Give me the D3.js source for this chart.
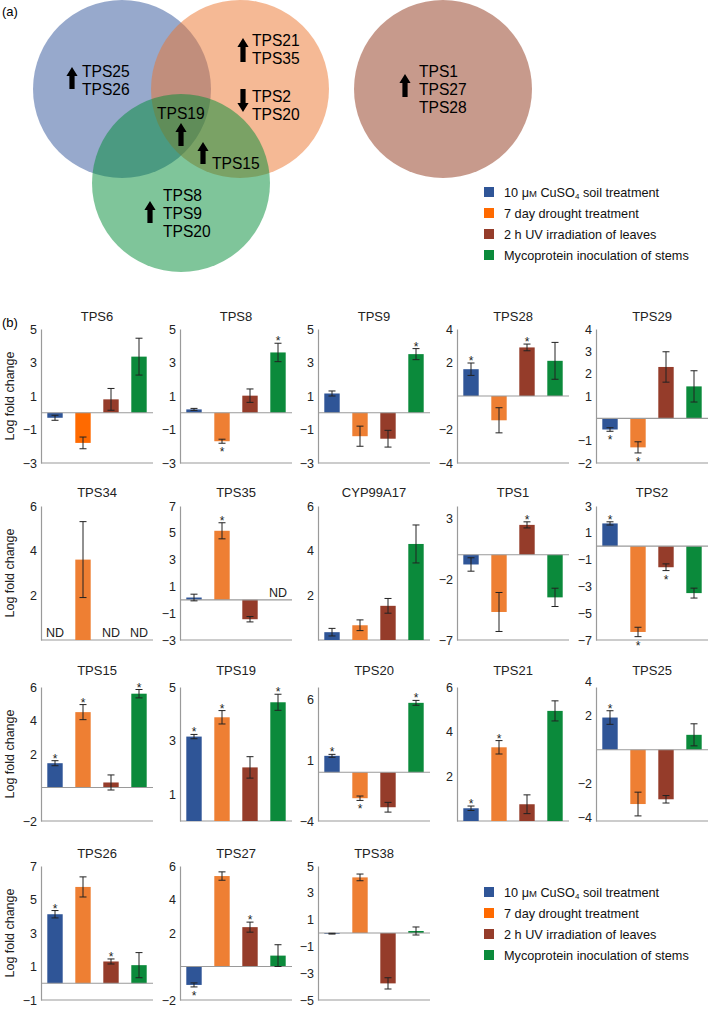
<!DOCTYPE html>
<html><head><meta charset="utf-8">
<script src="https://cdn.jsdelivr.net/npm/d3@7"></script>
<style>body{margin:0;background:#fff}svg{display:block;font-family:"Liberation Sans",Arial,Helvetica,sans-serif}</style>
</head><body><svg id="c" width="709" height="1009"></svg>
<script>
// ---------------- DATA ----------------
const genes = ["TPS6","TPS8","TPS9","TPS28","TPS29",
               "TPS34","TPS35","CYP99A17","TPS1","TPS2",
               "TPS15","TPS19","TPS20","TPS21","TPS25",
               "TPS26","TPS27","TPS38"];
// log fold change per treatment (null = ND)
const cuso4   = [-0.3, 0.2, 1.15, 1.6, -0.5,  null, 0.17, 0.35, -0.8, 1.7,   1.45, 3.15, 1.35, 0.57, 1.9,   4.12, -1.1, -0.05];
const drought = [-1.8,-1.7,-1.4,-1.45,-1.3,   3.6, 5.15, 0.66, -4.7, -6.4,   4.5, 3.87, -2.13, 3.3, -3.2,   5.75, 5.4, 4.15];
const uv      = [0.8, 1.02,-1.55, 2.9, 2.3,   null,-1.45, 1.53, 2.45, -1.57,  0.3, 2.0, -2.87, 0.75, -2.92,  1.3, 2.35, -3.76];
const myco    = [3.35,3.6, 3.5, 2.1, 1.43,    null, null, 4.3, -3.5, -3.5,    5.6, 4.43, 5.7, 4.93, 0.88,   1.08, 0.65, 0.15];
// error (half-length of bars)
const cuso4Err   = [0.15,0.06,0.15,0.37,0.08,  0,0.25,0.17,0.55,0.12,   0.15,0.08,0.12,0.1,0.4,   0.22,0.12,0.03];
const droughtErr = [0.35,0.12,0.6,0.75,0.25,   1.7,0.6,0.24,1.6,0.35,   0.45,0.25,0.18,0.3,0.7,   0.6,0.25,0.25];
const uvErr      = [0.65,0.4,0.5,0.2,0.68,     0,0.2,0.33,0.25,0.25,    0.45,0.4,0.4,0.42,0.22,   0.15,0.3,0.42];
const mycoErr    = [1.1,0.55,0.33,1.1,0.7,     0,0,0.85,0.75,0.37,      0.25,0.3,0.2,0.45,0.65,   0.75,0.65,0.3];
// significance (1 = *)
const cuso4Sig   = [0,0,0,1,1, 0,0,0,0,1, 1,1,1,1,1, 1,1,0];
const droughtSig = [0,1,0,0,1, 0,1,0,0,1, 1,1,1,1,0, 0,0,0];
const uvSig      = [0,0,0,1,0, 0,0,0,1,1, 0,0,0,0,0, 1,1,0];
const mycoSig    = [0,1,1,0,0, 0,0,0,0,0, 1,1,1,0,0, 0,0,0];
// y axes
const yMin = [-3,-3,-3,-4,-2,  0,-3,0,-7,-7,  -2,0,-4,0,-4.2,  -1,-2,-5];
const yMax = [5,5,5,4,4,       6,7,6,4,3,     6,5,7,6,3.7,     7,6,5];
const yTicks = [[5,3,1,-1,-3],[5,3,1,-1,-3],[5,3,1,-1,-3],[4,2,-2,-4],[4,3,2,1,-1,-2],
                [6,4,2],[7,5,3,1,-1,-3],[6,4,2],[3,-2,-7],[3,1,-1,-3,-5,-7],
                [6,4,2,-2],[5,3,1],[6,1,-4],[6,4,2],[4,2,-2,-4],
                [7,5,3,1,-1],[6,4,2,-2],[5,3,1,-1,-3,-5]];
const vividOrangeGenes = ["TPS6"];
const seriesKeys = ["cuso4","drought","uv","myco"];
const legendLabels = ["10 μM CuSO4 soil treatment","7 day drought treatment","2 h UV irradiation of leaves","Mycoprotein inoculation of stems"];
// Venn diagram content
const vennSets = ["CuSO4","drought","mycoprotein","UV"];
const vennGroups = [["TPS25","TPS26"],["TPS21","TPS35"],["TPS2","TPS20"],["TPS19"],["TPS15"],["TPS8","TPS9","TPS20"],["TPS1","TPS27","TPS28"]];
const vennDirs = ["up","up","down","up","up","up","up"];

// ---------------- STYLE / LAYOUT ----------------
const barColors = {cuso4:"#2f5597", drought:"#ee7f33", uv:"#953c2a", myco:"#0b8a3b"};
const vividOrange = "#ff6a00";
const legendColors = ["#2f5597","#ff6a00","#953c2a","#0b8a3b"];
const vennColors = ["#2f5399","#eb732b","#008b35","#8f3519"];
const vennGeom = [[122,89,89],[240,89,89],[181,183,89],[443,89,89]];
const groupPos = [[82,71],[252,40],[252,96],[157,113],[212,163],[163,195],[419,71]];
const arrowPos = [[72,67,89],[243,38,62],[243,89,112],[181,123,146],[203,142,164],[150,201,223],[405,74,97]];

const svg = d3.select("#c");
svg.append("rect").attr("width",709).attr("height",1009).attr("fill","#fff");

// -------- Panel (a) --------
svg.append("text").attr("x",2).attr("y",16).attr("font-size",13).text("(a)");
const vg = svg.append("g");
vennGeom.forEach((c,i)=>{
  vg.append("circle").attr("cx",c[0]).attr("cy",c[1]).attr("r",c[2])
    .attr("fill",vennColors[i]).attr("fill-opacity",0.5);
});
function arrowPath(cx,y1,y2,dir){
  const sw=2.6, hw=5.6, hh=9;
  if(dir==="up"){
    return `M${cx},${y1} L${cx+hw},${y1+hh} L${cx+sw},${y1+hh} L${cx+sw},${y2} L${cx-sw},${y2} L${cx-sw},${y1+hh} L${cx-hw},${y1+hh} Z`;
  } else {
    return `M${cx},${y2} L${cx+hw},${y2-hh} L${cx+sw},${y2-hh} L${cx+sw},${y1} L${cx-sw},${y1} L${cx-sw},${y2-hh} L${cx-hw},${y2-hh} Z`;
  }
}
vennGroups.forEach((grp,i)=>{
  const [tx,ty] = groupPos[i];
  grp.forEach((t,j)=>{
    vg.append("text").attr("x",tx).attr("y",ty + j*18 + 5.5).attr("font-size",15.6).attr("fill","#000").text(t);
  });
  const a = arrowPos[i];
  vg.append("path").attr("d",arrowPath(a[0],a[1],a[2],vennDirs[i])).attr("fill","#000");
});

// -------- Legends --------
function drawLegend(lx, ly){
  const g = svg.append("g");
  legendLabels.forEach((lab,i)=>{
    const yy = ly + i*21;
    g.append("rect").attr("x",lx).attr("y",yy-5).attr("width",10).attr("height",10).attr("fill",legendColors[i]);
    const t = g.append("text").attr("x",lx+20).attr("y",yy+4.5).attr("font-size",12.7).attr("fill","#111");
    if(i===0){
      const m = lab.match(/^(10 μ)(M)( CuSO)(4)( .*)$/);
      t.append("tspan").text(m[1]);
      t.append("tspan").attr("font-size",9.5).text(m[2]);
      t.append("tspan").text(m[3]);
      t.append("tspan").attr("font-size",8).attr("dy",2.5).text(m[4]);
      t.append("tspan").attr("dy",-2.5).text(m[5]);
    } else t.text(lab);
  });
}
drawLegend(484,192);
drawLegend(484,892);

// -------- Panel (b) --------
svg.append("text").attr("x",2).attr("y",327).attr("font-size",13).text("(b)");
const colX = [41,180,318,457,596];
const rowTop = [329,506,687,866];
const titleY = [320.5,496.5,674.5,857.5];
const plotW = 112, plotH = 134;
const series = {cuso4, drought, uv, myco};
const errs = {cuso4:cuso4Err, drought:droughtErr, uv:uvErr, myco:mycoErr};
const sigs = {cuso4:cuso4Sig, drought:droughtSig, uv:uvSig, myco:mycoSig};
const axisGray = "#9a9a9a";

rowTop.forEach((t,r)=>{
  svg.append("text").attr("transform",`translate(14,${t+plotH/2}) rotate(-90)`)
    .attr("text-anchor","middle").attr("font-size",12.5).attr("fill","#222").text("Log fold change");
});

genes.forEach((g,i)=>{
  const r = Math.floor(i/5), c = i%5;
  const x0 = colX[c], y0 = rowTop[r];
  const y = d3.scaleLinear().domain([yMin[i], yMax[i]]).range([y0+plotH, y0]);
  const x = d3.scaleBand().domain(seriesKeys).range([x0, x0+plotW]).paddingInner(0.45).paddingOuter(0.225);
  const p = svg.append("g");
  // title
  p.append("text").attr("x",x0+plotW/2).attr("y",titleY[r]).attr("text-anchor","middle")
    .attr("font-size",13).attr("fill","#222").text(g);
  // y axis
  const ax = p.append("g").attr("transform",`translate(${x0},0)`)
    .call(d3.axisLeft(y).tickValues(yTicks[i]).tickSize(0).tickSizeOuter(0).tickPadding(4).tickFormat(d3.format("d")));
  ax.select(".domain").attr("stroke",axisGray).attr("stroke-width",1.2);
  ax.selectAll("text").attr("font-size",12.5).attr("fill","#222").attr("font-family","Liberation Sans, Arial, sans-serif");
  // bottom line
  p.append("line").attr("x1",x0).attr("x2",x0+plotW).attr("y1",y(yMin[i])).attr("y2",y(yMin[i]))
    .attr("stroke",axisGray).attr("stroke-width",1.2);
  // bars
  seriesKeys.forEach(k=>{
    const v = series[k][i];
    const cx = x(k) + x.bandwidth()/2;
    if(v===null){
      p.append("text").attr("x",cx).attr("y",y(0)-3).attr("text-anchor","middle")
        .attr("font-size",12.5).attr("fill","#222").text("ND");
      return;
    }
    const col = (k==="drought" && vividOrangeGenes.includes(g)) ? vividOrange : barColors[k];
    p.append("rect").attr("x",x(k)).attr("width",x.bandwidth())
      .attr("y",Math.min(y(v),y(0))).attr("height",Math.max(0.8,Math.abs(y(v)-y(0))))
      .attr("fill",col);
  });
  // zero line
  if(yMin[i] < 0){
    p.append("line").attr("x1",x0).attr("x2",x0+plotW).attr("y1",y(0)).attr("y2",y(0))
      .attr("stroke",axisGray).attr("stroke-width",1.2);
  }
  // error bars & stars
  seriesKeys.forEach(k=>{
    const v = series[k][i];
    if(v===null) return;
    const e = errs[k][i];
    const cx = x(k) + x.bandwidth()/2;
    const yt = y(v+e), yb = y(v-e);
    p.append("line").attr("x1",cx).attr("x2",cx).attr("y1",yt).attr("y2",yb).attr("stroke","#222").attr("stroke-width",1);
    [yt,yb].forEach(yy=>p.append("line").attr("x1",cx-3.5).attr("x2",cx+3.5).attr("y1",yy).attr("y2",yy).attr("stroke","#222").attr("stroke-width",1));
    if(sigs[k][i]){
      const sc = v>=0 ? yt-5 : yb+6;
      p.append("text").attr("x",cx).attr("y",sc+7).attr("text-anchor","middle")
        .attr("font-size",12).attr("fill","#222").text("*");
    }
  });
});
</script></body></html>
